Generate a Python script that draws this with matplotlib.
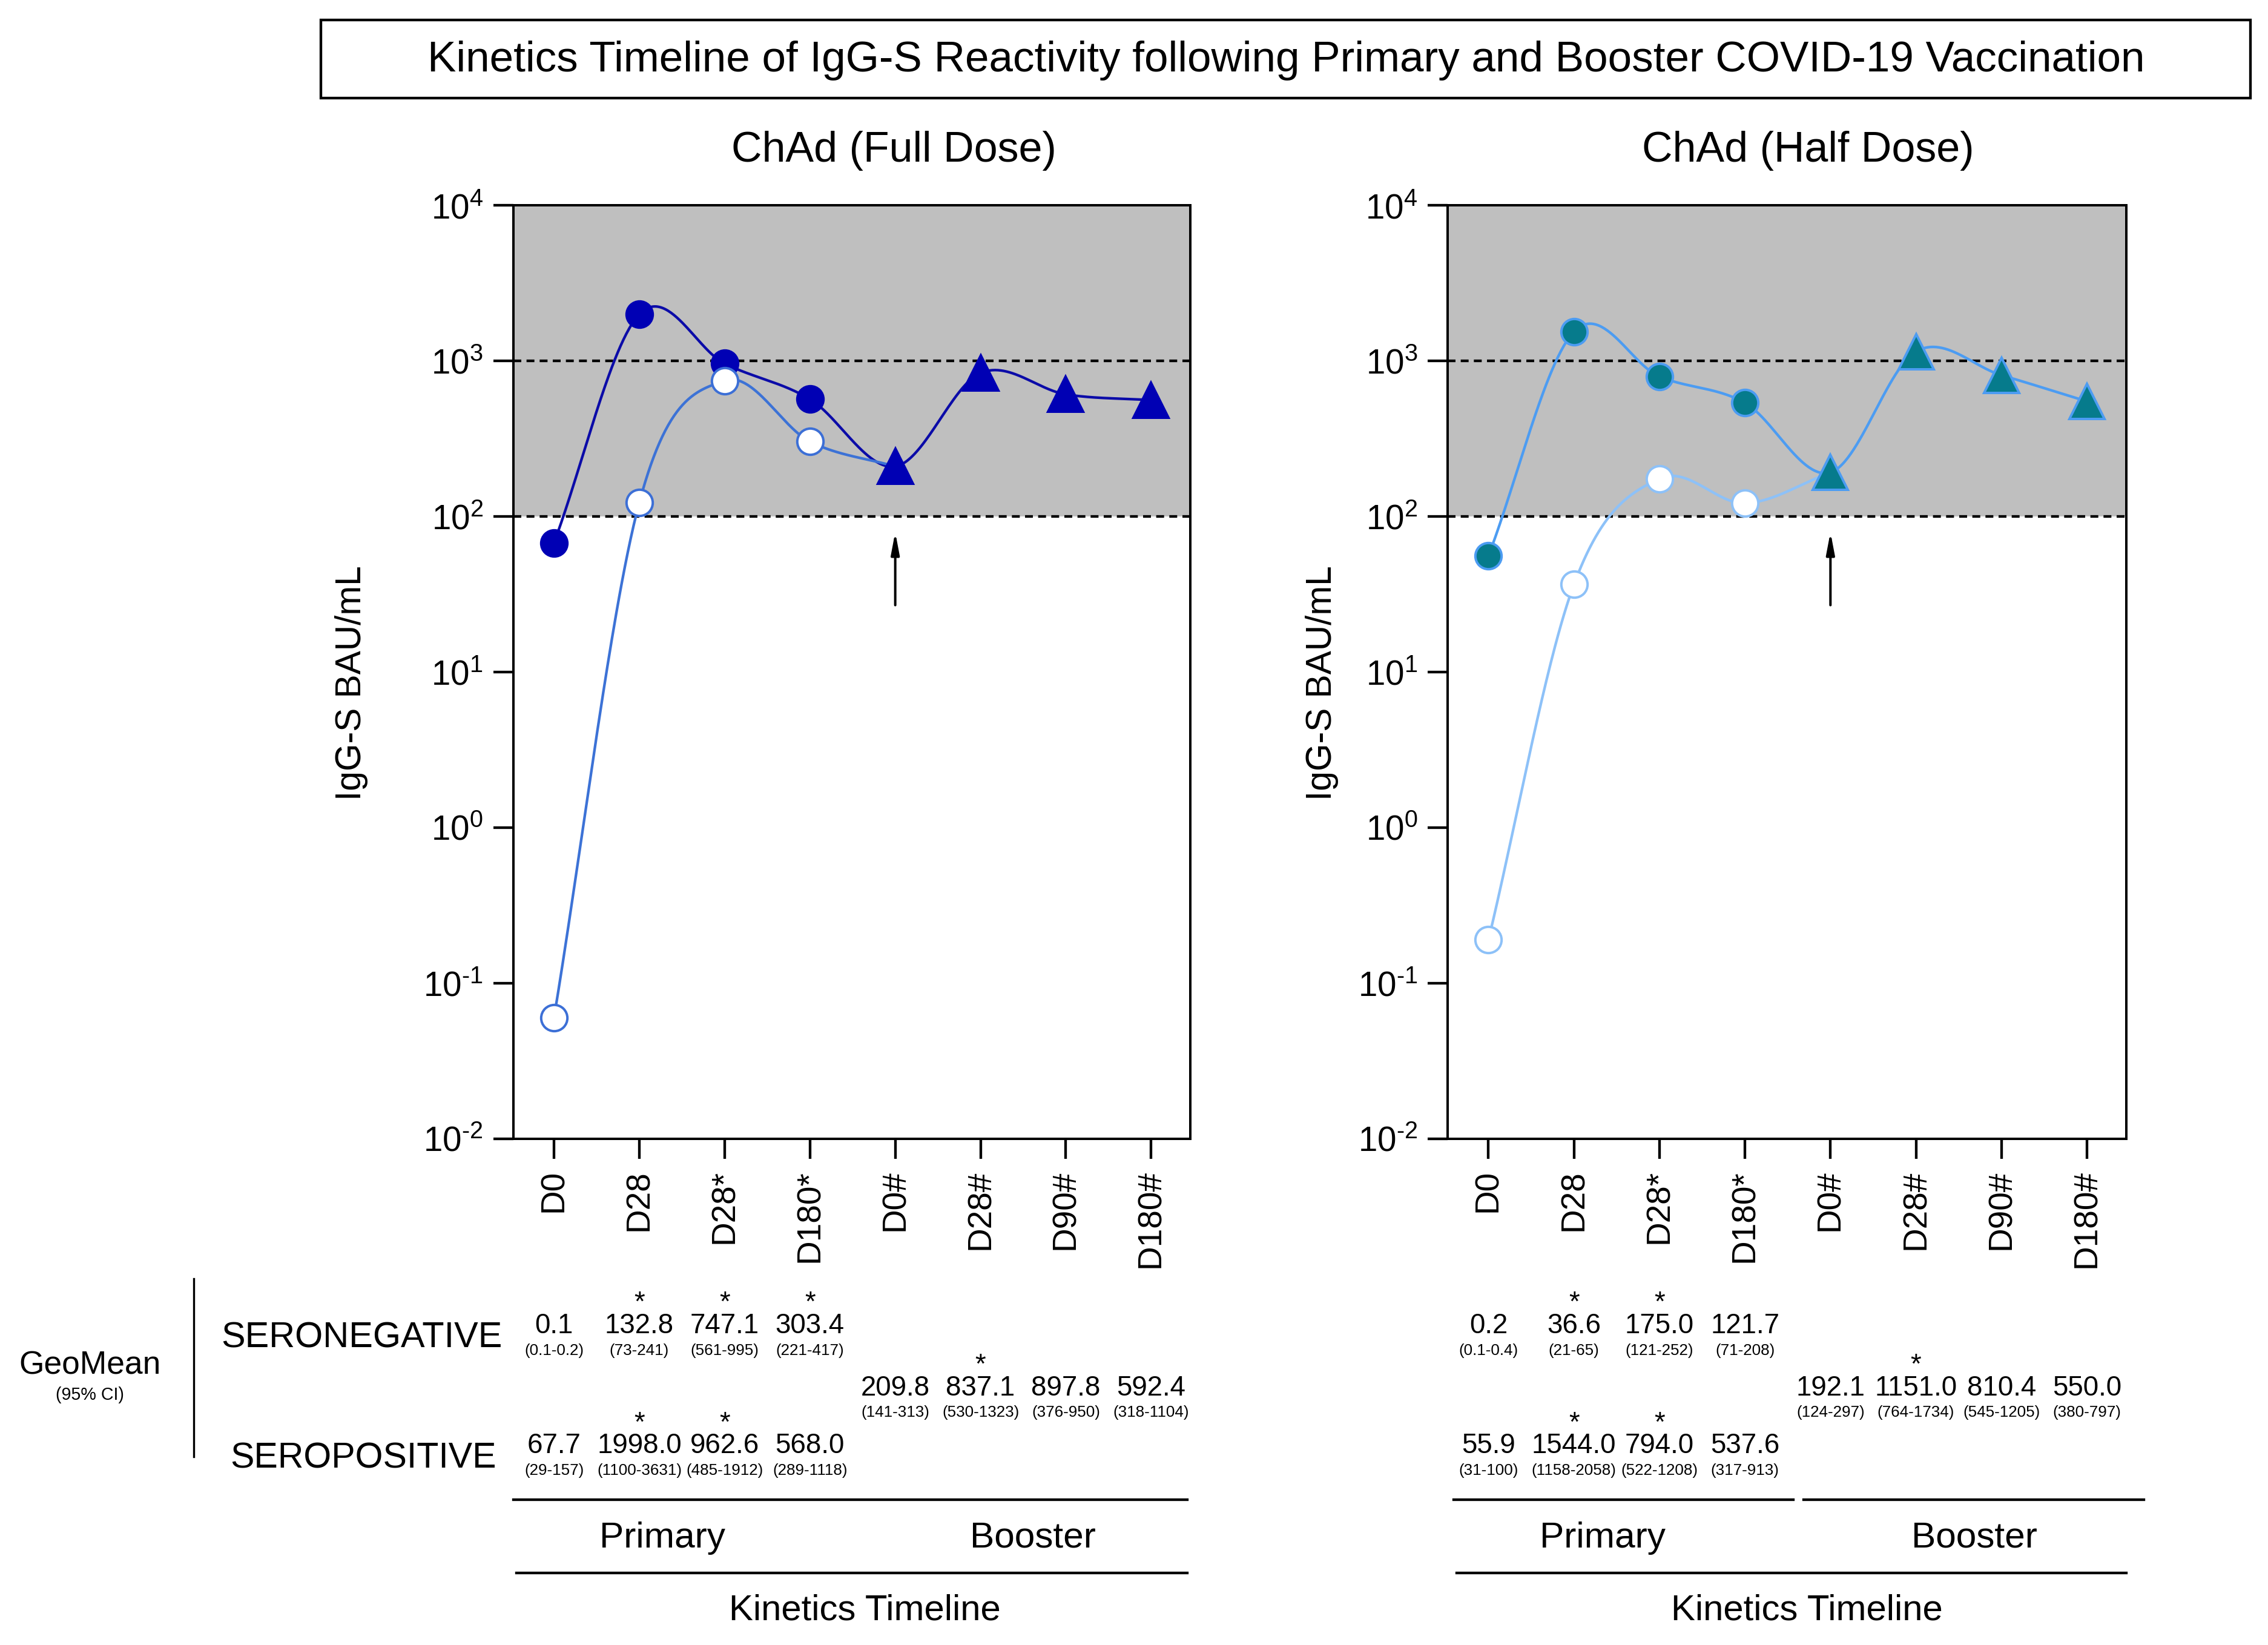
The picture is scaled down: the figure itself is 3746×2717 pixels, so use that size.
import numpy as np
import matplotlib
matplotlib.use('Agg')
import matplotlib.pyplot as plt
from matplotlib import transforms, font_manager
from matplotlib.patches import Rectangle
from matplotlib.lines import Line2D
from matplotlib.ticker import FixedLocator, FuncFormatter, NullLocator

_names = {f.name for f in font_manager.fontManager.ttflist}
if 'Liberation Sans Narrow' in _names:
    BASE = 'Liberation Sans Narrow'
    K = 1 / 0.82
else:
    BASE = 'Liberation Sans'
    K = 1.0
plt.rcParams['font.family'] = [BASE, 'Liberation Sans', 'DejaVu Sans']
plt.rcParams['mathtext.fontset'] = 'custom'
plt.rcParams['mathtext.rm'] = BASE
plt.rcParams['mathtext.it'] = BASE + ':italic'
plt.rcParams['mathtext.bf'] = BASE + ':bold'

# ---------------- data ----------------
categories = ['D0', 'D28', 'D28*', 'D180*', 'D0#', 'D28#', 'D90#', 'D180#']
primary_idx = [0, 1, 2, 3]
booster_idx = [4, 5, 6, 7]

# plotted geometric means
full_seroneg = [0.06, 123.0, 747.1, 303.4]
full_seropos = [67.7, 1998.0, 962.6, 568.0]
full_booster = [209.8, 837.1, 610.0, 560.0]

half_seroneg = [0.19, 36.6, 175.0, 121.7]
half_seropos = [55.9, 1544.0, 794.0, 537.6]
half_booster = [192.1, 1151.0, 810.4, 550.0]

# table texts
full_neg_txt = ['0.1', '132.8', '747.1', '303.4']
full_neg_ci = ['(0.1-0.2)', '(73-241)', '(561-995)', '(221-417)']
full_neg_star = ['', '*', '*', '*']
full_boo_txt = ['209.8', '837.1', '897.8', '592.4']
full_boo_ci = ['(141-313)', '(530-1323)', '(376-950)', '(318-1104)']
full_boo_star = ['', '*', '', '']
full_pos_txt = ['67.7', '1998.0', '962.6', '568.0']
full_pos_ci = ['(29-157)', '(1100-3631)', '(485-1912)', '(289-1118)']
full_pos_star = ['', '*', '*', '']

half_neg_txt = ['0.2', '36.6', '175.0', '121.7']
half_neg_ci = ['(0.1-0.4)', '(21-65)', '(121-252)', '(71-208)']
half_neg_star = ['', '*', '*', '']
half_boo_txt = ['192.1', '1151.0', '810.4', '550.0']
half_boo_ci = ['(124-297)', '(764-1734)', '(545-1205)', '(380-797)']
half_boo_star = ['', '*', '', '']
half_pos_txt = ['55.9', '1544.0', '794.0', '537.6']
half_pos_ci = ['(31-100)', '(1158-2058)', '(522-1208)', '(317-913)']
half_pos_star = ['', '*', '*', '']

# ---------------- helpers ----------------
W, H = 1568.0, 1137.0


def fx(x):
    return x / W


def fy(y):
    return 1 - y / H


def fs(s):
    return s * K


def smooth(xs, ys, n=60):
    xs = np.asarray(xs, float)
    ly = np.log10(np.asarray(ys, float))
    m = np.empty_like(ly)
    m[1:-1] = (ly[2:] - ly[:-2]) / 2
    m[0] = ly[1] - ly[0]
    m[-1] = ly[-1] - ly[-2]
    ox, oy = [], []
    t = np.linspace(0, 1, n)
    h00 = 2 * t**3 - 3 * t**2 + 1
    h10 = t**3 - 2 * t**2 + t
    h01 = -2 * t**3 + 3 * t**2
    h11 = t**3 - t**2
    for i in range(len(xs) - 1):
        ox.append(xs[i] + t * (xs[i + 1] - xs[i]))
        oy.append(h00 * ly[i] + h10 * m[i] + h01 * ly[i + 1] + h11 * m[i + 1])
    return np.concatenate(ox), 10 ** np.concatenate(oy)


def ytick_fmt(v, pos):
    e = int(round(np.log10(v)))
    if e < 0:
        return r'$\mathregular{10^{\text{-}%d}}$' % (-e)
    return r'$\mathregular{10^{%d}}$' % e


fig = plt.figure(figsize=(3746 / 240, 2717 / 240), dpi=240)

panels = [
    dict(left=355, right=823, title='ChAd (Full Dose)', title_x=618, ylab_x=243,
         neg=full_seroneg, pos=full_seropos, boo=full_booster,
         pos_face='#0000B4', pos_edge='#0000B4', pos_line='#0B0BA8',
         neg_edge='#3C6FD6', neg_line='#3C72D6',
         tables=[(full_neg_txt, full_neg_ci, full_neg_star, primary_idx, 915),
                 (full_boo_txt, full_boo_ci, full_boo_star, booster_idx, 958),
                 (full_pos_txt, full_pos_ci, full_pos_star, primary_idx, 998)],
         lines1=[(355, 821)], lines2=(357, 821), prim_x=458, boo_x=714, kin_x=598),
    dict(left=1001, right=1470, title='ChAd (Half Dose)', title_x=1250, ylab_x=914,
         neg=half_seroneg, pos=half_seropos, boo=half_booster,
         pos_face='#067B8C', pos_edge='#4C9CF2', pos_line='#4C9CF2',
         neg_edge='#8DC1F8', neg_line='#8DC1F8',
         tables=[(half_neg_txt, half_neg_ci, half_neg_star, primary_idx, 915),
                 (half_boo_txt, half_boo_ci, half_boo_star, booster_idx, 958),
                 (half_pos_txt, half_pos_ci, half_pos_star, primary_idx, 998)],
         lines1=[(1005, 1240), (1247, 1482)], lines2=(1007, 1470), prim_x=1108, boo_x=1365, kin_x=1249),
]

top, bottom = 142, 787
for p in panels:
    ax = fig.add_axes([fx(p['left']), fy(bottom), (p['right'] - p['left']) / W, (bottom - top) / H])
    ax.set_yscale('log')
    ax.set_ylim(1e-2, 1e4)
    ax.set_xlim(-0.475, 7.46)
    ax.axhspan(100, 1e4, color='#BFBFBF', zorder=0, lw=0)
    for lvl in (100, 1000):
        ax.axhline(lvl, color='k', lw=1.3, ls=(0, (3, 2)), zorder=1)

    # seropositive + booster path
    pos_x = primary_idx + booster_idx
    pos_y = list(p['pos']) + list(p['boo'])
    sx, sy = smooth(pos_x, pos_y)
    ax.plot(sx, sy, color=p['pos_line'], lw=1.3, zorder=2)
    # seronegative path joins booster D0#
    neg_x = primary_idx + booster_idx[:1]
    neg_y = list(p['neg']) + list(p['boo'][:1])
    sx, sy = smooth(neg_x, neg_y)
    ax.plot(sx, sy, color=p['neg_line'], lw=1.3, zorder=2)

    ax.plot(primary_idx, p['pos'], ls='none', marker='o', ms=13, mfc=p['pos_face'],
            mec=p['pos_edge'], mew=1.2, zorder=4)
    ax.plot(primary_idx, p['neg'], ls='none', marker='o', ms=13, mfc='white',
            mec=p['neg_edge'], mew=1.2, zorder=5)
    ax.plot(booster_idx, p['boo'], ls='none', marker='^', ms=17.5, mfc=p['pos_face'],
            mec=p['pos_edge'], mew=1.2, zorder=4)

    ax.annotate('', xy=(categories.index('D0#'), 10 ** 1.9), xytext=(categories.index('D0#'), 10 ** 1.43),
                arrowprops=dict(arrowstyle='-|>,head_length=0.9,head_width=0.17', color='k', lw=1.2,
                                shrinkA=0, shrinkB=0), zorder=6)

    ax.set_xticks(range(len(categories)))
    ax.set_xticklabels(categories, rotation=90, fontsize=fs(16.5))
    ax.yaxis.set_major_locator(FixedLocator([10.0 ** k for k in range(-2, 5)]))
    ax.yaxis.set_minor_locator(NullLocator())
    ax.yaxis.set_major_formatter(FuncFormatter(ytick_fmt))
    ax.tick_params(axis='y', direction='out', length=10, width=1.3, pad=5, labelsize=fs(17))
    ax.tick_params(axis='x', direction='out', length=10, width=1.3, pad=5.5)
    for s in ax.spines.values():
        s.set_linewidth(1.2)

    fig.text(fx(p['title_x']), fy(104), p['title'], fontsize=fs(21), ha='center', va='center')
    fig.text(fx(p['ylab_x']), fy(472), 'IgG-S BAU/mL', fontsize=fs(17.6), rotation=90, ha='center', va='center')

    trans = transforms.blended_transform_factory(ax.transData, fig.transFigure)
    for vals, cis, stars, idx, yv in p['tables']:
        for i, v, c, s in zip(idx, vals, cis, stars):
            label = (s + '\n' + v) if s else v
            ax.text(i, fy(yv + 10.7), label, transform=trans, ha='center', va='bottom',
                    fontsize=fs(13.7), linespacing=0.8, clip_on=False)
            ax.text(i, fy(yv + 18.5), c, transform=trans, ha='center', va='center', fontsize=fs(7.8), clip_on=False)

    for (a, b) in p['lines1']:
        fig.add_artist(Line2D([fx(a), fx(b)], [fy(1036.5), fy(1036.5)], color='k', lw=1.3))
    a, b = p['lines2']
    fig.add_artist(Line2D([fx(a), fx(b)], [fy(1087), fy(1087)], color='k', lw=1.3))
    fig.text(fx(p['prim_x']), fy(1063), 'Primary', fontsize=fs(18.1), ha='center', va='center')
    fig.text(fx(p['boo_x']), fy(1063), 'Booster', fontsize=fs(18.1), ha='center', va='center')
    fig.text(fx(p['kin_x']), fy(1113), 'Kinetics Timeline', fontsize=fs(18), ha='center', va='center')

# left labels of the table
fig.text(fx(62), fy(944), 'GeoMean', fontsize=fs(16), ha='center', va='center')
fig.text(fx(62), fy(964), '(95% CI)', fontsize=fs(8.6), ha='center', va='center')
fig.text(fx(250), fy(925), 'SERONEGATIVE', fontsize=fs(17.8), ha='center', va='center')
fig.text(fx(251), fy(1008), 'SEROPOSITIVE', fontsize=fs(17.7), ha='center', va='center')
fig.add_artist(Line2D([fx(134), fx(134)], [fy(884), fy(1007)], color='k', lw=1.0))

# title box
fig.add_artist(Rectangle((fx(222), fy(68)), (1556 - 222) / W, (68 - 14) / H, transform=fig.transFigure,
                         fill=False, ec='k', lw=1.3))
fig.text(fx(889), fy(42), 'Kinetics Timeline of IgG-S Reactivity following Primary and Booster COVID-19 Vaccination',
         fontsize=fs(21.3), ha='center', va='center')

fig.savefig('out.png', dpi=240, facecolor='white')
